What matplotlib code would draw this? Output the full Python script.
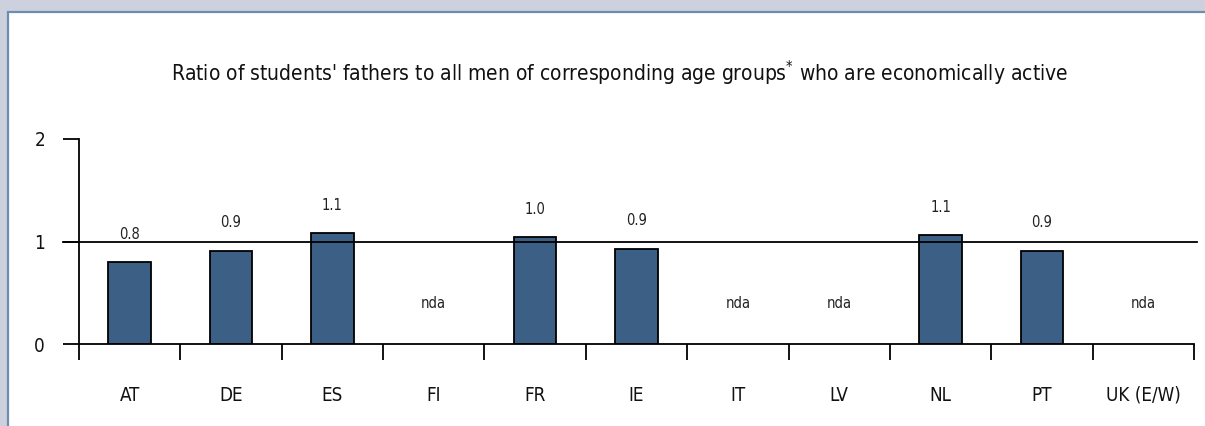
import matplotlib
matplotlib.use("Agg")
import matplotlib.pyplot as plt
from matplotlib.patches import Rectangle
import numpy as np

categories = ['AT', 'DE', 'ES', 'FI', 'FR', 'IE', 'IT', 'LV', 'NL', 'PT', 'UK (E/W)']
values = [0.80, 0.91, 1.08, np.nan, 1.04, 0.93, np.nan, np.nan, 1.06, 0.91, np.nan]
value_labels = ['0.8', '0.9', '1.1', 'nda', '1.0', '0.9', 'nda', 'nda', '1.1', '0.9', 'nda']
nda_level = 0.40
yticks = [0, 1, 2]
reference = 1.0
title = "Ratio of students' fathers to all men of corresponding age groups$^{*}$ who are economically active"

plt.rcParams['font.family'] = ['DejaVu Sans']
plt.rcParams['font.stretch'] = 'condensed'
plt.rcParams['mathtext.fontset'] = 'dejavusans'

W, H = 1205, 426
fig = plt.figure(figsize=(W / 100, H / 100), dpi=100, facecolor='#cdd1de')

# white panel with blue-grey border
fig.patches.append(Rectangle((8 / W, -0.2), 1.2, 1 - 12 / H + 0.2, transform=fig.transFigure,
                             facecolor='white', edgecolor='#6f8cb0', linewidth=1.6, zorder=-5))

left, right, y0, y2 = 79, 1194, 344, 139
ax = fig.add_axes([left / W, (H - y0) / H, (right - left) / W, (y0 - y2) / H])
ax.set_facecolor('none')
ax.set_zorder(2)

x = np.arange(len(categories)) + 0.5
ax.bar(x, values, width=0.42, color='#3b5f85', edgecolor='black', linewidth=1.3, zorder=3)

for xi, v, lab in zip(x, values, value_labels):
    if np.isnan(v):
        ax.text(xi, nda_level, lab, ha='center', va='center', fontsize=10.5, color='#222222')
    else:
        ax.annotate(lab, (xi, v), xytext=(0, 20), textcoords='offset points',
                    ha='center', va='center', fontsize=10.5, color='#222222')

ax.set_xlim(0, len(categories))
ax.set_ylim(0, 2)
ax.axhline(reference, xmin=-0.0145, xmax=1.003, color='black', linewidth=1.3, clip_on=False, zorder=4)

for s in ['top', 'right']:
    ax.spines[s].set_visible(False)
for s in ['left', 'bottom']:
    ax.spines[s].set_linewidth(1.3)
    ax.spines[s].set_zorder(5)

ax.set_yticks(yticks)
ax.set_yticklabels([str(t) for t in yticks], fontsize=13.5, color='#111111')
ax.tick_params(axis='y', direction='out', length=11.5, width=1.3, pad=13)

ax.set_xticks(np.arange(len(categories) + 1))
ax.set_xticklabels([])
ax.tick_params(axis='x', which='major', direction='out', length=11.5, width=1.3)
ax.set_xticks(x, minor=True)
ax.set_xticklabels(categories, minor=True, fontsize=13.5, color='#111111')
ax.tick_params(axis='x', which='minor', length=0, pad=30)

fig.text(620 / W, 1 - 73 / H, title, ha='center', va='center', fontsize=15, color='#111111')

fig.savefig('out.png', dpi=100, facecolor=fig.get_facecolor())
